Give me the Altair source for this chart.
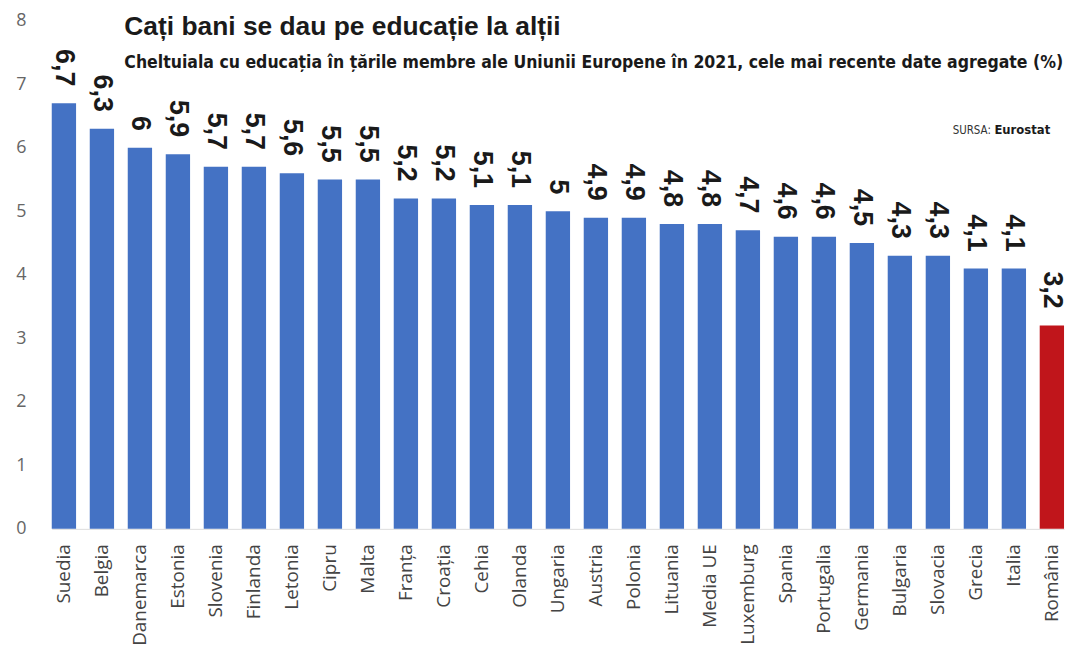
import altair as alt
import pandas as pd

countries = ["Suedia", "Belgia", "Danemarca", "Estonia", "Slovenia", "Finlanda", "Letonia",
             "Cipru", "Malta", "Franța", "Croația", "Cehia", "Olanda", "Ungaria", "Austria",
             "Polonia", "Lituania", "Media UE", "Luxemburg", "Spania", "Portugalia",
             "Germania", "Bulgaria", "Slovacia", "Grecia", "Italia", "România"]
values = [6.7, 6.3, 6.0, 5.9, 5.7, 5.7, 5.6, 5.5, 5.5, 5.2, 5.2, 5.1, 5.1, 5.0, 4.9,
          4.9, 4.8, 4.8, 4.7, 4.6, 4.6, 4.5, 4.3, 4.3, 4.1, 4.1, 3.2]
highlight = ["România"]

title_text = "Cați bani se dau pe educație la alții"
subtitle_text = ("Cheltuiala cu educația în țările membre ale Uniunii Europene în 2021, "
                 "cele mai recente date agregate (%)")
source_label = "SURSA:"
source_name = "Eurostat"

df = pd.DataFrame({
    "tara": countries,
    "valoare": values,
    "eticheta": [f"{v:g}".replace(".", ",") for v in values],
    "grup": ["ro" if c in highlight else "eu" for c in countries],
})

x = alt.X("tara:N", sort=None, title=None,
          scale=alt.Scale(paddingInner=0.36, paddingOuter=0),
          axis=alt.Axis(labelAngle=-90, labelFont="Open Sans", labelFontSize=19,
                        labelColor="#444444", ticks=False, labelPadding=15,
                        domainColor="#dddddd", domainWidth=1, grid=False))
y = alt.Y("valoare:Q", title=None,
          scale=alt.Scale(domain=[0, 8], nice=False),
          axis=alt.Axis(values=list(range(0, 9)), labelFont="Open Sans", labelFontSize=18,
                        labelColor="#666666", ticks=False, domain=False, grid=False,
                        labelPadding=26))

bars = alt.Chart(df).mark_bar().encode(
    x=x, y=y,
    color=alt.Color("grup:N", legend=None,
                    scale=alt.Scale(domain=["eu", "ro"], range=["#4472C4", "#C0151B"])),
)

# rotated text: dx/dy act in the rotated frame (dx negative = upwards)
labels = alt.Chart(df).mark_text(
    angle=90, align="right", baseline="middle", dx=-17, dy=0,
    font="Liberation Sans", fontWeight="bold", fontSize=27, color="#1a1a1a",
).encode(x=x, y=y, text="eticheta:N")

title = alt.Chart(pd.DataFrame({"t": [title_text]})).mark_text(
    align="left", baseline="alphabetic", font="Liberation Sans", fontWeight="bold",
    fontSize=26.5, color="#1a1a1a",
).encode(x=alt.value(73), y=alt.value(14), text="t:N")

subtitle = alt.Chart(pd.DataFrame({"t": [subtitle_text]})).mark_text(
    align="left", baseline="alphabetic", font="DejaVu Sans Condensed, Liberation Sans",
    fontWeight="bold", fontSize=17.6, color="#1a1a1a",
).encode(x=alt.value(73), y=alt.value(48), text="t:N")

src1 = alt.Chart(pd.DataFrame({"t": [source_label]})).mark_text(
    align="left", baseline="alphabetic", font="DejaVu Sans Condensed, Liberation Sans",
    fontSize=11.5, color="#333333",
).encode(x=alt.value(906), y=alt.value(114), text="t:N")

src2 = alt.Chart(pd.DataFrame({"t": [source_name]})).mark_text(
    align="left", baseline="alphabetic", font="DejaVu Sans Condensed, Liberation Sans",
    fontWeight="bold", fontSize=13, color="#1a1a1a",
).encode(x=alt.value(948), y=alt.value(114), text="t:N")

chart = alt.layer(bars, labels, title, subtitle, src1, src2).properties(
    width=1018, height=511,
    autosize=alt.AutoSizeParams(type="none"),
    padding={"left": 44, "top": 11, "right": 5, "bottom": 120},
).configure_view(stroke=None)

chart.save("out.html", embed_options={"renderer": "svg", "actions": False})
